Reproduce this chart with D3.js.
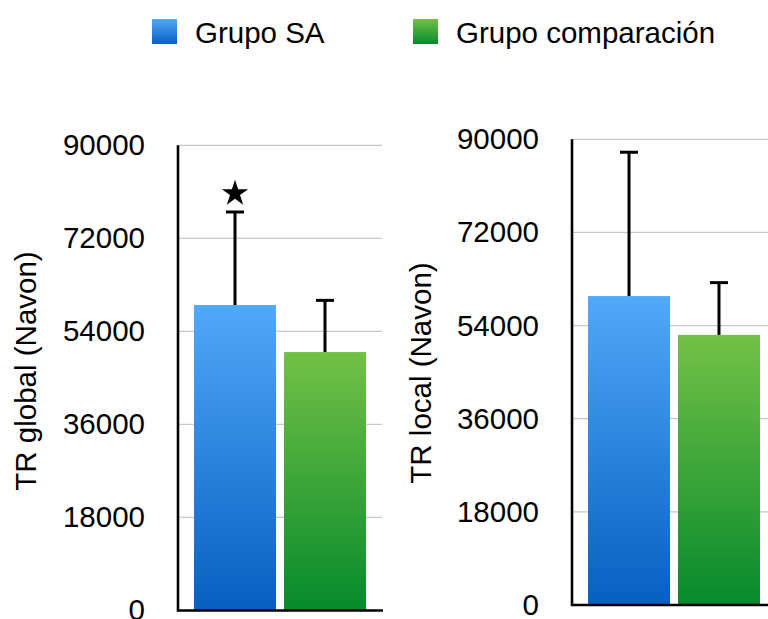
<!DOCTYPE html>
<html>
<head>
<meta charset="utf-8">
<script src="https://cdn.jsdelivr.net/npm/d3@7"></script>
<style>
  html, body { margin: 0; padding: 0; background: #fff; }
  svg { display: block; font-family: "Liberation Sans", Arial, Helvetica, sans-serif; }
</style>
</head>
<body>
<svg id="chart" width="768" height="619"></svg>
<script>
// Mean reaction times (Navon task) per group, with upper error bars
const groups = ["Grupo SA", "Grupo comparación"];
const globalMeans = [59100, 50000];
const globalUpper = [77100, 60000];
const localMeans = [59700, 52200];
const localUpper = [87500, 62300];
const tickValues = [0, 18000, 36000, 54000, 72000, 90000];
const significant = [true, false]; // star over the global SA bar

const svg = d3.select("#chart");
const defs = svg.append("defs");

const gradStops = {
  blue: ["#52a8f9", "#0660c1"],
  green: ["#73c146", "#068a2c"]
};
Object.entries(gradStops).forEach(([key, [top, bottom]]) => {
  const g = defs.append("linearGradient")
    .attr("id", "grad-" + key)
    .attr("x1", 0).attr("y1", 0).attr("x2", 0).attr("y2", 1);
  g.append("stop").attr("offset", "0%").attr("stop-color", top);
  g.append("stop").attr("offset", "100%").attr("stop-color", bottom);
});
const fills = ["url(#grad-blue)", "url(#grad-green)"];

// Legend
const legendItems = [
  { x: 152, label: groups[0], fill: fills[0] },
  { x: 413, label: groups[1], fill: fills[1] }
];
legendItems.forEach(item => {
  svg.append("rect")
    .attr("x", item.x).attr("y", 19)
    .attr("width", 25).attr("height", 25)
    .attr("fill", item.fill);
  svg.append("text")
    .attr("x", item.x + 43).attr("y", 43)
    .attr("font-size", 29.5)
    .attr("fill", "#000")
    .text(item.label);
});

function drawPanel(opts) {
  const { axisX, yTop, yBottom, means, upper, title, titleX, titleY, star } = opts;
  const g = svg.append("g");

  const x = d3.scaleBand()
    .domain(groups)
    .range([axisX, axisX + 204])
    .paddingInner(0.089)
    .paddingOuter(0.178);

  const y = d3.scaleLinear()
    .domain([0, 90000])
    .range([yBottom, yTop]);

  // Horizontal gridlines
  g.selectAll("line.grid")
    .data(tickValues.filter(v => v > 0))
    .join("line")
    .attr("class", "grid")
    .attr("x1", axisX).attr("x2", axisX + 204)
    .attr("y1", d => y(d)).attr("y2", d => y(d))
    .attr("stroke", "#c6c6c6")
    .attr("stroke-width", 1.2);

  // Bars
  g.selectAll("rect.bar")
    .data(groups)
    .join("rect")
    .attr("class", "bar")
    .attr("x", d => x(d))
    .attr("width", x.bandwidth())
    .attr("y", (d, i) => y(means[i]))
    .attr("height", (d, i) => y(0) - y(means[i]))
    .attr("fill", (d, i) => fills[i]);

  // Error bars (upper only)
  const capW = 18;
  groups.forEach((grp, i) => {
    const cx = x(grp) + x.bandwidth() / 2;
    g.append("line")
      .attr("x1", cx).attr("x2", cx)
      .attr("y1", y(means[i])).attr("y2", y(upper[i]))
      .attr("stroke", "#000").attr("stroke-width", 3);
    g.append("line")
      .attr("x1", cx - capW / 2).attr("x2", cx + capW / 2)
      .attr("y1", y(upper[i])).attr("y2", y(upper[i]))
      .attr("stroke", "#000").attr("stroke-width", 3);
    if (star && star[i]) {
      g.append("path")
        .attr("d", d3.symbol(d3.symbolStar, 215)())
        .attr("transform", `translate(${cx},${y(upper[i]) - 18.5})`)
        .attr("fill", "#000");
    }
  });

  // Y axis
  const axis = d3.axisLeft(y).tickValues(tickValues).tickSize(0).tickPadding(33)
    .tickFormat(d3.format("d"));
  const ag = g.append("g")
    .attr("transform", `translate(${axisX},0)`)
    .call(axis);
  ag.select(".domain").remove();
  ag.selectAll("text")
    .attr("font-size", 29.5)
    .attr("font-family", "'Liberation Sans', Arial, Helvetica, sans-serif")
    .attr("fill", "#000");

  // Axis lines
  g.append("line")
    .attr("x1", axisX).attr("x2", axisX)
    .attr("y1", yTop).attr("y2", yBottom + 1)
    .attr("stroke", "#000").attr("stroke-width", 2.6);
  g.append("line")
    .attr("x1", axisX - 1).attr("x2", axisX + 205)
    .attr("y1", yBottom).attr("y2", yBottom)
    .attr("stroke", "#000").attr("stroke-width", 2.6);

  // Axis title
  g.append("text")
    .attr("transform", `translate(${titleX},${titleY}) rotate(-90)`)
    .attr("text-anchor", "middle")
    .attr("font-size", 29.5)
    .attr("fill", "#000")
    .text(title);
}

drawPanel({
  axisX: 178, yTop: 145.3, yBottom: 610.5,
  means: globalMeans, upper: globalUpper,
  title: "TR global (Navon)", titleX: 36, titleY: 371,
  star: significant
});

drawPanel({
  axisX: 572, yTop: 139.3, yBottom: 605,
  means: localMeans, upper: localUpper,
  title: "TR local (Navon)", titleX: 431, titleY: 373
});
</script>
</body>
</html>
